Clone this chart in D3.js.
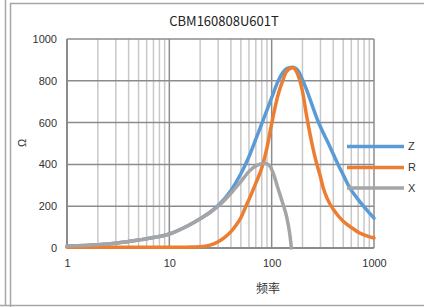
<!DOCTYPE html>
<html><head><meta charset="utf-8">
<script src="https://cdn.jsdelivr.net/npm/d3@7"></script>
<style>html,body{margin:0;padding:0;background:#fff;}svg{display:block;}</style>
</head><body>
<script>
const title = "CBM160808U601T";
const xTitle = "频率";
const yTitle = "Ω";
const xTickValues = [1, 10, 100, 1000];
const yTickValues = [0, 200, 400, 600, 800, 1000];
const seriesNames = ["Z", "R", "X"];
const seriesColors = ["#5B9BD5", "#ED7D31", "#A5A5A5"];

const zFreq =   [1, 2, 3, 5, 7, 10, 15, 20, 25, 30, 40, 50, 61, 70, 77, 86, 100, 115, 128, 140, 160, 180, 200, 220, 250, 282, 320, 370, 445, 500, 580, 680, 790, 900, 1000];
const zValues = [9, 16, 23, 38, 50, 67, 105, 140, 171, 203, 275, 355, 445, 521, 574, 635, 719, 796, 838, 858, 865, 850, 805, 755, 680, 610, 550, 486, 400, 350, 288, 240, 200, 168, 143];

const rFreq =   [1, 5, 10, 15, 20, 25, 30, 35, 40, 45, 50, 56, 61, 70, 82, 90, 100, 115, 128, 140, 160, 180, 200, 220, 250, 273, 300, 318, 350, 400, 440, 500, 600, 725, 850, 1000];
const rValues = [3, 3, 3, 4, 6, 14, 30, 52, 78, 110, 145, 200, 240, 310, 400, 480, 595, 730, 800, 845, 862, 830, 750, 630, 490, 410, 340, 290, 235, 185, 158, 128, 98, 72, 58, 48];

const xFreq =   [1, 2, 3, 5, 7, 10, 15, 20, 25, 30, 40, 50, 61, 70, 80, 86, 95, 105, 115, 128, 140, 150, 156];
const xValues = [9, 16, 23, 38, 50, 67, 105, 140, 170, 200, 262, 318, 370, 393, 403, 405, 395, 350, 287, 215, 150, 70, 0];

const W = 424, H = 307;
const plot = {l: 67, r: 374, t: 39, b: 248};

const svg = d3.select("body").append("svg").attr("width", W).attr("height", H);
svg.append("rect").attr("width", W).attr("height", H).attr("fill", "#fff");

// outer frame lines
svg.append("line").attr("x1", 5.5).attr("x2", 5.5).attr("y1", 0).attr("y2", 306).attr("stroke", "#a6a6a6").attr("stroke-width", 1.5);
svg.append("path").attr("d", `M10.5,${H}V3.5H${W}`).attr("fill", "none").attr("stroke", "#a6a6a6").attr("stroke-width", 1.5);
svg.append("line").attr("x1", 0).attr("x2", W).attr("y1", 305.5).attr("y2", 305.5).attr("stroke", "#a6a6a6").attr("stroke-width", 1.5);

const x = d3.scaleLog().domain([1, 1000]).range([plot.l, plot.r]);
const y = d3.scaleLinear().domain([0, 1000]).range([plot.b, plot.t]);

// minor vertical gridlines
const minor = [];
for (let d = 1; d < 1000; d *= 10) for (let k = 2; k <= 9; k++) minor.push(d * k);
svg.append("g").selectAll("line").data(minor).join("line")
  .attr("x1", d => x(d)).attr("x2", d => x(d)).attr("y1", plot.t).attr("y2", plot.b)
  .attr("stroke", "#c8c8c8").attr("stroke-width", 1.5);
// major vertical
svg.append("g").selectAll("line").data(xTickValues).join("line")
  .attr("x1", d => x(d)).attr("x2", d => x(d)).attr("y1", plot.t).attr("y2", plot.b)
  .attr("stroke", "#8c8c8c").attr("stroke-width", 1.5);
// horizontal
svg.append("g").selectAll("line").data(yTickValues).join("line")
  .attr("x1", plot.l).attr("x2", plot.r).attr("y1", d => y(d)).attr("y2", d => y(d))
  .attr("stroke", "#8c8c8c").attr("stroke-width", 1.5);
// axis lines
svg.append("line").attr("x1", plot.l).attr("x2", plot.l).attr("y1", plot.t).attr("y2", plot.b).attr("stroke", "#8c8c8c").attr("stroke-width", 2);
svg.append("line").attr("x1", plot.l).attr("x2", plot.r).attr("y1", plot.b).attr("y2", plot.b).attr("stroke", "#8c8c8c").attr("stroke-width", 2);

// axes labels via d3 axes
const yAxis = d3.axisLeft(y).tickValues(yTickValues).tickSize(0).tickPadding(10).tickFormat(d3.format("d"));
const gy = svg.append("g").attr("transform", `translate(${plot.l},0)`).call(yAxis);
gy.select(".domain").remove();
gy.selectAll("text").attr("font-family", "Liberation Sans, Arial, sans-serif").attr("font-size", 11).attr("fill", "#333");

const xAxis = d3.axisBottom(x).tickValues(xTickValues).tickSize(0).tickPadding(11).tickFormat(d3.format("d"));
const gx = svg.append("g").attr("transform", `translate(0,${plot.b})`).call(xAxis);
gx.select(".domain").remove();
gx.selectAll("text").attr("font-family", "Liberation Sans, Arial, sans-serif").attr("font-size", 11).attr("fill", "#333");

// series
const line = d3.line().x(d => x(d[0])).y(d => y(d[1])).curve(d3.curveMonotoneX);
const series = [
  d3.zip(zFreq, zValues),
  d3.zip(rFreq, rValues),
  d3.zip(xFreq, xValues)
];
svg.append("g").selectAll("path").data(series).join("path")
  .attr("d", d => line(d)).attr("fill", "none")
  .attr("stroke", (d, i) => seriesColors[i]).attr("stroke-width", 3.5)
  .attr("stroke-linejoin", "round").attr("stroke-linecap", "round");

// legend
const legendY = [146.5, 167.5, 188];
const lg = svg.append("g").selectAll("g").data(seriesNames).join("g");
lg.append("line").attr("x1", 347).attr("x2", 404).attr("y1", (d, i) => legendY[i]).attr("y2", (d, i) => legendY[i])
  .attr("stroke", (d, i) => seriesColors[i]).attr("stroke-width", 3.5);
lg.append("text").attr("x", 408).attr("y", (d, i) => legendY[i]).attr("dy", "0.35em")
  .attr("font-family", "Liberation Sans, Arial, sans-serif").attr("font-size", 11).attr("fill", "#333").text(d => d);

// titles
svg.append("text").attr("x", 224).attr("y", 26).attr("text-anchor", "middle")
  .attr("font-family", "Noto Sans CJK SC, sans-serif").attr("font-size", 13).attr("fill", "#222").text(title);
svg.append("text").attr("transform", "translate(22,143) rotate(-90)").attr("text-anchor", "middle").attr("dy", "0.35em")
  .attr("font-family", "Liberation Sans, Arial, sans-serif").attr("font-size", 11).attr("fill", "#333").text(yTitle);
svg.append("text").attr("x", 268).attr("y", 289).attr("text-anchor", "middle").attr("dy", "0.35em")
  .attr("font-family", "Noto Sans CJK SC, sans-serif").attr("font-size", 12).attr("fill", "#333").text(xTitle);
</script>
</body></html>
